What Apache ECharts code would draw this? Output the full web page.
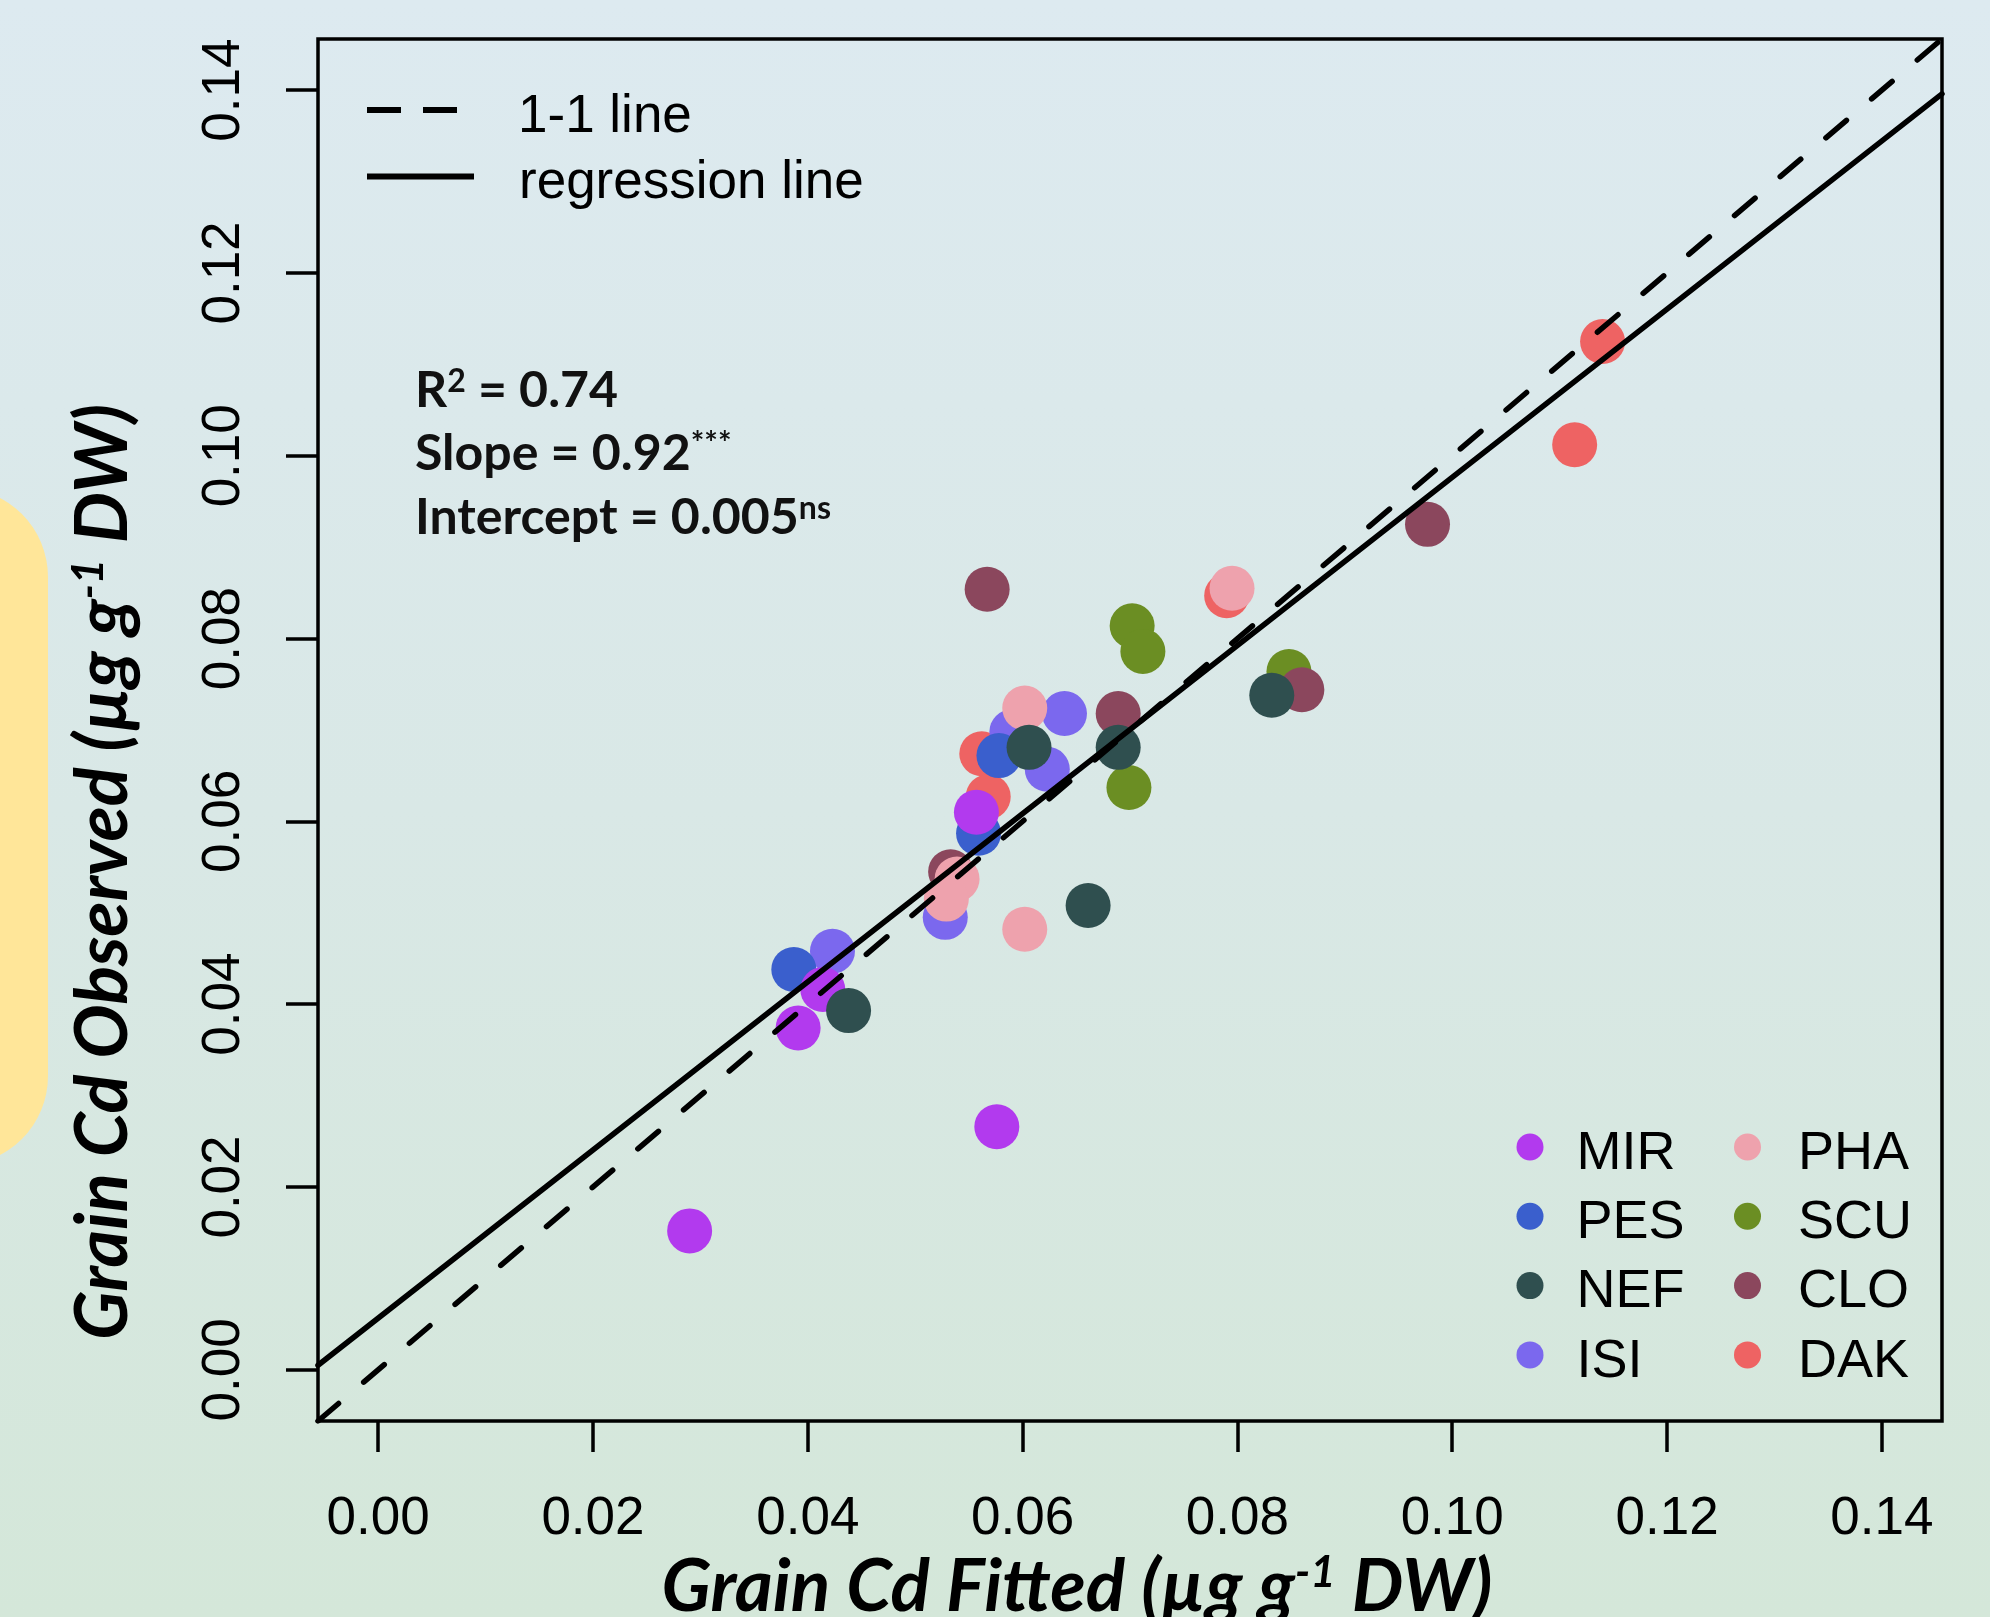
<!DOCTYPE html>
<html>
<head>
<meta charset="utf-8">
<script src="https://cdn.jsdelivr.net/npm/echarts@6/dist/echarts.min.js"></script>
<style>
html,body{margin:0;padding:0;overflow:hidden;background:#d9e9e6;}
#chart{width:1990px;height:1617px;}
</style>
</head>
<body>
<div id="chart"></div>
<script>
// ---------- DATA ----------
const genotypes = ['MIR', 'PES', 'NEF', 'ISI', 'PHA', 'SCU', 'CLO', 'DAK'];
const genotypeColors = ['#b23aee', '#3a5fcd', '#2f4f4f', '#7b68ee', '#eea2ad', '#6b8e23', '#8b475d', '#ee6363'];

// [fitted, observed]
const MIR = [[0.0290, 0.0152], [0.0576, 0.0266], [0.0391, 0.0374], [0.0414, 0.0416], [0.0557, 0.0610]];
const PES = [[0.0387, 0.0438], [0.0559, 0.0587], [0.0578, 0.0672]];
const NEF = [[0.0438, 0.0393], [0.0661, 0.0508], [0.0606, 0.0681], [0.0689, 0.0681], [0.0832, 0.0738]];
const ISI = [[0.0423, 0.0458], [0.0528, 0.0495], [0.0590, 0.0698], [0.0623, 0.0657], [0.0639, 0.0718]];
const PHA = [[0.0539, 0.0537], [0.0529, 0.0515], [0.0602, 0.0482], [0.0602, 0.0724], [0.0795, 0.0855]];
const SCU = [[0.0702, 0.0814], [0.0712, 0.0786], [0.0699, 0.0637], [0.0848, 0.0764]];
const CLO = [[0.0533, 0.0545], [0.0567, 0.0854], [0.0689, 0.0718], [0.0860, 0.0744], [0.0977, 0.0925]];
const DAK = [[0.0562, 0.0674], [0.0568, 0.0627], [0.0790, 0.0847], [0.1114, 0.1012], [0.1140, 0.1125]];

const tickValues = [0, 0.02, 0.04, 0.06, 0.08, 0.10, 0.12, 0.14];
const axisMin = -0.0056;
const axisMax = 0.1456;

const oneToOneLine = [[-0.0056, -0.0056], [0.1456, 0.1456]];
const regressionLine = [[-0.0056, 0.0005], [0.1456, 0.1396]];

const statLines = [
  '{m|R}{s|2}{m| = 0.74}',
  '{m|Slope = 0.92}{s|***}',
  '{m|Intercept = 0.005}{s|ns}'
];
const xTitleText = 'Grain Cd Fitted (µg g{sup|-1} DW)';
const yTitleText = 'Grain Cd Observed (µg g{sup|-1} DW)';

// ---------- helpers ----------
const seriesByName = { MIR, PES, NEF, ISI, PHA, SCU, CLO, DAK };
const colorByName = {};
genotypes.forEach((g, i) => { colorByName[g] = genotypeColors[i]; });

const ctx = document.createElement('canvas').getContext('2d');
function textW(str, font) { ctx.font = font; return ctx.measureText(str).width; }

const TITLE_FAMILY = 'Lato, "Open Sans", "DejaVu Sans", sans-serif';
const TICK_FAMILY = '"Liberation Sans", Arial, "DejaVu Sans", sans-serif';
const SUP = 0.6;

function titleSize(plain, sup, target) {
  const w = textW(plain, 'italic bold 100px ' + TITLE_FAMILY) + SUP * textW(sup, 'italic bold 100px ' + TITLE_FAMILY);
  return 100 * target / w;
}
const xTitleSize = titleSize('Grain Cd Fitted (µg g DW)', '-1', 831);
const yTitleSize = titleSize('Grain Cd Observed (µg g DW)', '-1', 936);
const statSize = 100 * 384 / textW('Intercept = 0.005', 'bold 100px ' + TITLE_FAMILY);

function titleStyle(size, padding) {
  return {
    fontFamily: TITLE_FAMILY, fontWeight: 'bold', fontStyle: 'italic',
    fontSize: size, lineHeight: size, color: '#000', padding: padding,
    rich: {
      sup: { fontFamily: TITLE_FAMILY, fontWeight: 'bold', fontStyle: 'italic',
             fontSize: size * SUP, lineHeight: size * SUP, verticalAlign: 'top', color: '#000' }
    }
  };
}

// draw order (bottom -> top)
const drawOrder = ['SCU', 'CLO', 'DAK', 'ISI', 'PES', 'MIR', 'PHA', 'NEF'];

const scatterSeries = drawOrder.map(name => ({
  name: name,
  type: 'scatter',
  data: seriesByName[name],
  symbol: 'circle',
  symbolSize: 45,
  itemStyle: { color: colorByName[name], opacity: 1 },
  emphasis: { disabled: true },
  silent: true,
  z: 2
}));

const lineSeries = [
  {
    name: '1-1 line', type: 'line', data: oneToOneLine, symbol: 'none', silent: true, z: 5,
    lineStyle: { color: '#000', width: 5.5, type: [27, 33], cap: 'round' },
    itemStyle: { color: '#000' }
  },
  {
    name: 'regression line', type: 'line', data: regressionLine, symbol: 'none', silent: true, z: 5,
    lineStyle: { color: '#000', width: 5.5, type: 'solid', cap: 'round' },
    itemStyle: { color: '#000' }
  }
];

const statY = [389, 452, 516];
const statGraphics = statLines.map((t, i) => ({
  type: 'text',
  x: 415,
  y: statY[i] + 0.036 * statSize,
  z: 10,
  silent: true,
  style: {
    text: t,
    align: 'left',
    verticalAlign: 'middle',
    fill: '#111',
    rich: {
      m: { fontFamily: TITLE_FAMILY, fontWeight: 'bold', fontSize: statSize, lineHeight: statSize, fill: '#111' },
      s: { fontFamily: TITLE_FAMILY, fontWeight: 'bold', fontSize: statSize * 0.64, lineHeight: statSize * 0.64, verticalAlign: 'top', fill: '#111' }
    }
  }
}));

// legend text: left gap via padding, slight downward shift of the label via a rich token padding
const legendText = (size, padLeft, shiftPad) => ({
  fontFamily: TICK_FAMILY, fontSize: size, lineHeight: size, color: '#000',
  padding: [0, 0, 0, padLeft],
  rich: { a: { fontFamily: TICK_FAMILY, fontSize: size, lineHeight: size, color: '#000', padding: [shiftPad, 0, 0, 0] } }
});
const legendFormatter = name => '{a|' + name + '}';

const option = {
  animation: false,
  graphic: [
    {
      type: 'rect', z: -10, silent: true,
      shape: { x: 0, y: 0, width: 1990, height: 1617 },
      style: {
        fill: { type: 'linear', x: 0, y: 0, x2: 0, y2: 1,
          colorStops: [{ offset: 0, color: '#ddeaf0' }, { offset: 0.5, color: '#d9e8e6' }, { offset: 1, color: '#d4e7d9' }] }
      }
    },
    {
      type: 'rect', z: -9, silent: true,
      shape: { x: -130, y: 488, width: 178, height: 677, r: 89 },
      style: { fill: '#ffe699' }
    }
  ].concat(statGraphics),
  grid: {
    left: 318, top: 39, width: 1624, height: 1382,
    show: true, borderColor: '#000', borderWidth: 3.5, backgroundColor: 'transparent',
    containLabel: false, outerBoundsMode: 'none'
  },
  xAxis: {
    type: 'value', min: axisMin, max: axisMax,
    name: xTitleText, nameLocation: 'middle', nameGap: 127,
    nameTextStyle: titleStyle(xTitleSize, [0, 106, 0, 0]),
    axisLine: { show: false, onZero: false },
    splitLine: { show: false },
    axisTick: { show: true, inside: false, length: 31, customValues: tickValues,
                lineStyle: { color: '#000', width: 3.5 } },
    axisLabel: { show: true, customValues: tickValues, margin: 72,
                 formatter: v => v.toFixed(2),
                 fontFamily: TICK_FAMILY, fontSize: 53, color: '#000' }
  },
  yAxis: {
    type: 'value', min: axisMin, max: axisMax,
    name: yTitleText, nameLocation: 'middle', nameRotate: 90, nameGap: 178,
    nameTextStyle: titleStyle(yTitleSize, [0, 284, 0, 0]),
    axisLine: { show: false, onZero: false },
    splitLine: { show: false },
    axisTick: { show: true, inside: false, length: 32, customValues: tickValues,
                lineStyle: { color: '#000', width: 3.5 } },
    axisLabel: { show: true, customValues: tickValues, margin: 67, rotate: 90,
                 formatter: v => v.toFixed(2),
                 fontFamily: TICK_FAMILY, fontSize: 53, color: '#000' }
  },
  legend: [
    {
      data: [{ name: '1-1 line', icon: 'path://M0,0h34v6h-34zM56,0h34v6h-34z' }],
      left: 367, top: 76.5, padding: 0, itemWidth: 90, itemHeight: 6,
      selectedMode: false, itemStyle: { color: '#000', borderWidth: 0 },
      formatter: legendFormatter,
      textStyle: legendText(53, 56, 14)
    },
    {
      data: [{ name: 'regression line', icon: 'path://M0,0h107v6h-107z' }],
      left: 367, top: 143, padding: 0, itemWidth: 107, itemHeight: 6,
      selectedMode: false, itemStyle: { color: '#000', borderWidth: 0 },
      formatter: legendFormatter,
      textStyle: legendText(53, 40, 14)
    },
    {
      data: genotypes.slice(0, 4), orient: 'vertical',
      left: 1516.5, top: 1113, padding: 0, itemWidth: 27, itemHeight: 27, itemGap: 1.3,
      icon: 'circle', selectedMode: false,
      formatter: legendFormatter,
      textStyle: legendText(54, 28, 14)
    },
    {
      data: genotypes.slice(4), orient: 'vertical',
      left: 1734, top: 1113, padding: 0, itemWidth: 27, itemHeight: 27, itemGap: 1.3,
      icon: 'circle', selectedMode: false,
      formatter: legendFormatter,
      textStyle: legendText(54, 32, 14)
    }
  ],
  series: scatterSeries.concat(lineSeries)
};

const chart = echarts.init(document.getElementById('chart'), null, { renderer: 'canvas', width: 1990, height: 1617 });
chart.setOption(option);
</script>
</body>
</html>
